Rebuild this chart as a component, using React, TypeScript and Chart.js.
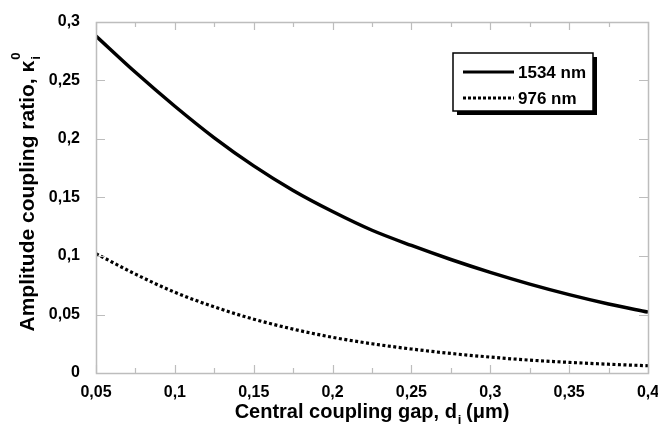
import React, { useEffect, useRef } from "react";
import { Chart, registerables } from "chart.js";

Chart.register(...registerables);

const gapValues = [0.05, 0.075, 0.1, 0.125, 0.15, 0.175, 0.2, 0.225, 0.25, 0.275, 0.3, 0.325, 0.35, 0.375, 0.4];
const kappa1534 = [0.288, 0.257, 0.228, 0.201, 0.177, 0.156, 0.138, 0.122, 0.109, 0.097, 0.086, 0.076, 0.067, 0.059, 0.052];
const kappa976 = [0.102, 0.0845, 0.069, 0.0565, 0.046, 0.0375, 0.0305, 0.025, 0.0205, 0.0167, 0.0136, 0.011, 0.0091, 0.0075, 0.0062];
const seriesLabels = ["1534 nm", "976 nm"];
const xTitle = "Central coupling gap, d";
const yTitle = "Amplitude coupling ratio, κ";

const FONT = "'Liberation Sans', Arial, sans-serif";
const AXIS_GREY = "#bdbdbd";

const fmt = (v: number) => parseFloat(Number(v).toFixed(3)).toString().replace(".", ",");

const decorPlugin = {
  id: "decor",
  afterDraw(chart: any) {
    const ctx = chart.ctx;
    const { left, right, top, bottom } = chart.chartArea;
    const xs = chart.scales.x;
    const ys = chart.scales.y;
    ctx.save();
    // frame
    ctx.strokeStyle = AXIS_GREY;
    ctx.lineWidth = 1.5;
    ctx.strokeRect(Math.round(left) + 0.5, Math.round(top) + 0.5, Math.round(right - left), Math.round(bottom - top));
    // x ticks
    ctx.lineWidth = 1.2;
    for (let i = 0; i <= 14; i++) {
      const v = 0.05 + i * 0.025;
      const px = Math.round(xs.getPixelForValue(v)) + 0.5;
      const len = i % 2 === 0 ? 8 : 5;
      ctx.beginPath();
      ctx.moveTo(px, bottom);
      ctx.lineTo(px, bottom - len);
      ctx.moveTo(px, top);
      ctx.lineTo(px, top + len);
      ctx.stroke();
    }
    for (let i = 0; i <= 6; i++) {
      const v = i * 0.05;
      const py = Math.round(ys.getPixelForValue(v)) + 0.5;
      ctx.beginPath();
      ctx.moveTo(left, py);
      ctx.lineTo(left + 9, py);
      ctx.moveTo(right, py);
      ctx.lineTo(right - 9, py);
      ctx.stroke();
    }

    // x title
    ctx.fillStyle = "#000";
    ctx.textBaseline = "alphabetic";
    ctx.font = `bold 20px ${FONT}`;
    const wMain = ctx.measureText(xTitle).width;
    ctx.font = `bold 13px ${FONT}`;
    const wSub = ctx.measureText("i").width;
    ctx.font = `bold 20px ${FONT}`;
    const wTail = ctx.measureText(" (μm)").width;
    const total = wMain + wSub + wTail;
    const x0 = (left + right) / 2 - total / 2;
    const base = 418;
    ctx.textAlign = "left";
    ctx.fillText(xTitle, x0, base);
    ctx.font = `bold 13px ${FONT}`;
    ctx.fillText("i", x0 + wMain + 1, base + 6);
    ctx.font = `bold 20px ${FONT}`;
    ctx.fillText(" (μm)", x0 + wMain + wSub, base);

    // y title (rotated)
    ctx.save();
    ctx.translate(34, (top + bottom) / 2);
    ctx.rotate(-Math.PI / 2);
    ctx.font = `bold 21px ${FONT}`;
    const yMain = ctx.measureText(yTitle).width;
    ctx.font = `bold 13px ${FONT}`;
    const ySub = ctx.measureText("0").width;
    const yTot = yMain + ySub;
    const s0 = -yTot / 2 + 5;
    ctx.font = `bold 21px ${FONT}`;
    ctx.fillText(yTitle, s0, 0);
    ctx.font = `bold 13px ${FONT}`;
    ctx.fillText("i", s0 + yMain + 1, 6);
    ctx.fillText("0", s0 + yMain + 1, -14);
    ctx.restore();

    // legend
    const bx = 453, by = 53, bw = 140, bh = 58;
    ctx.fillStyle = "#000";
    ctx.fillRect(bx + 4, by + 4, bw, bh);
    ctx.fillStyle = "#fff";
    ctx.fillRect(bx, by, bw, bh);
    ctx.strokeStyle = "#000";
    ctx.lineWidth = 1.5;
    ctx.strokeRect(bx, by, bw, bh);
    const rows = [
      { y: 72, dash: [] as number[], w: 3, label: seriesLabels[0] },
      { y: 98, dash: [3, 2], w: 3, label: seriesLabels[1] },
    ];
    ctx.font = `bold 17px ${FONT}`;
    ctx.textBaseline = "middle";
    for (const r of rows) {
      ctx.beginPath();
      ctx.setLineDash(r.dash);
      ctx.lineWidth = r.w;
      ctx.moveTo(463, r.y);
      ctx.lineTo(514, r.y);
      ctx.stroke();
      ctx.setLineDash([]);
      ctx.fillStyle = "#000";
      ctx.fillText(r.label, 518, r.y + 1);
    }
    ctx.restore();
  },
};

export default function App() {
  const ref = useRef<HTMLCanvasElement | null>(null);
  useEffect(() => {
    if (!ref.current) return;
    const tickFont = { family: FONT, size: 16, weight: "bold" as const };
    const chart = new Chart(ref.current, {
      type: "line",
      data: {
        datasets: [
          {
            label: seriesLabels[0],
            data: gapValues.map((x, i) => ({ x, y: kappa1534[i] })),
            borderColor: "#000",
            borderWidth: 3.5,
            pointRadius: 0,
            cubicInterpolationMode: "monotone",
            fill: false,
          },
          {
            label: seriesLabels[1],
            data: gapValues.map((x, i) => ({ x, y: kappa976[i] })),
            borderColor: "#000",
            borderWidth: 3.2,
            borderDash: [3, 2.5],
            borderCapStyle: "butt",
            pointRadius: 0,
            cubicInterpolationMode: "monotone",
            fill: false,
          },
        ],
      },
      plugins: [decorPlugin],
      options: {
        animation: false,
        responsive: true,
        maintainAspectRatio: false,
        layout: { padding: { left: 0, top: 22, right: 10, bottom: 0 } },
        plugins: { legend: { display: false }, tooltip: { enabled: false } },
        scales: {
          x: {
            type: "linear",
            min: 0.05,
            max: 0.4,
            grid: { display: false, drawTicks: false },
            border: { display: false },
            ticks: {
              stepSize: 0.025,
              autoSkip: false,
              maxRotation: 0,
              padding: 10,
              color: "#000",
              font: tickFont,
              callback: (v: any) => (Math.round(Number(v) * 1000) % 50 === 0 ? fmt(Number(v)) : ""),
            },
            afterFit: (s: any) => {
              s.height = 441 - 373;
              s.paddingLeft = 0;
              s.paddingRight = 0;
            },
          },
          y: {
            type: "linear",
            min: 0,
            max: 0.3,
            grid: { display: false, drawTicks: false },
            border: { display: false },
            ticks: {
              stepSize: 0.05,
              padding: 16,
              color: "#000",
              font: tickFont,
              callback: (v: any) => fmt(Number(v)),
            },
            afterFit: (s: any) => {
              s.width = 96;
              s.paddingTop = 0;
              s.paddingBottom = 0;
            },
          },
        },
      } as any,
    });
    return () => chart.destroy();
  }, []);
  return (
    <div style={{ position: "fixed", left: 0, top: 0, width: 658, height: 441, background: "#fff" }}>
      <canvas ref={ref} />
    </div>
  );
}
